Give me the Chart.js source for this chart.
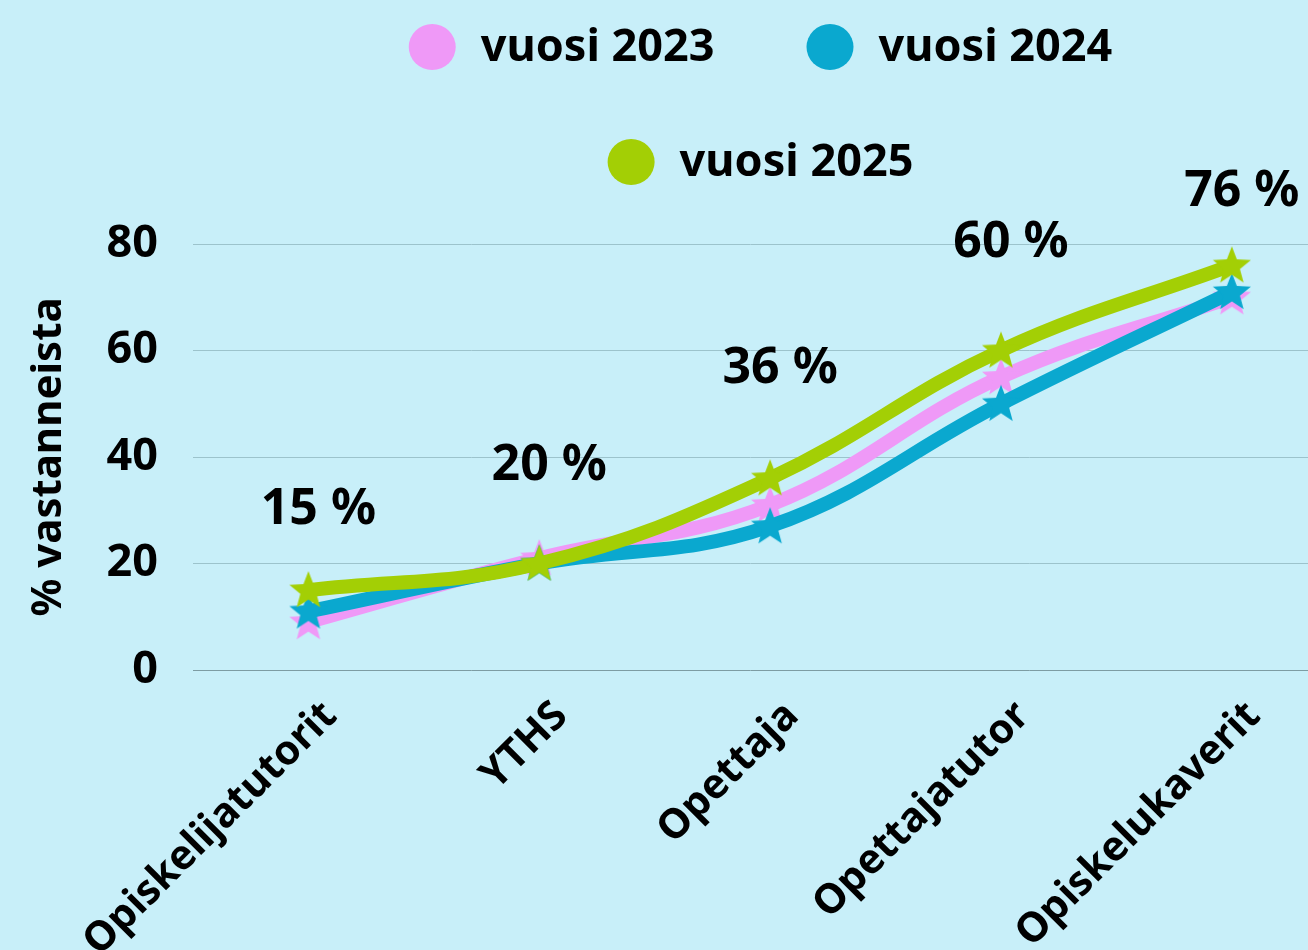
<!DOCTYPE html>
<html>
<head>
<meta charset="utf-8">
<script src="https://cdn.jsdelivr.net/npm/chart.js@4.4.1/dist/chart.umd.min.js"></script>
<style>
  body { margin: 0; background: #c8eff9; }
  #wrap { width: 1308px; height: 950px; position: relative; }
</style>
</head>
<body>
<div id="wrap"><canvas id="grafico"></canvas></div>
<script>
// data
var categorias = ["Opiskelijatutorit", "YTHS", "Opettaja", "Opettajatutor", "Opiskelukaverit"];
var vuosi2023 = [9, 21, 31, 55, 70];
var vuosi2024 = [11, 20, 27, 50, 71];
var vuosi2025 = [15, 20, 36, 60, 76];
var tickY = [0, 20, 40, 60, 80];

var corPink = "#ef99f7";
var corAzul = "#0aa8cf";
var corVerde = "#a3cf05";
var fonte = "'Noto Sans', sans-serif";

function estrela(cor) {
  var c = document.createElement("canvas");
  c.width = 42;
  c.height = 42;
  var g = c.getContext("2d");
  g.fillStyle = cor;
  g.beginPath();
  for (var i = 0; i < 10; i++) {
    var r = i % 2 == 0 ? 20 : 8.5;
    var a = -Math.PI / 2 + i * Math.PI / 5;
    var px = 21 + r * Math.cos(a);
    var py = 22 + r * Math.sin(a);
    if (i == 0) g.moveTo(px, py); else g.lineTo(px, py);
  }
  g.closePath();
  g.fill();
  return c;
}

function serie(valores) {
  return valores.map(function (v, i) { return { x: i, y: v }; });
}

// custom legend, two rows
var legendaPlugin = {
  id: "legenda",
  afterDraw(chart) {
    var ctx = chart.ctx;
    var linhas = [[0, 1], [2]];
    var ys = [47, 162];
    var centro = (chart.chartArea.left + chart.chartArea.right) / 2 + 10;
    ctx.save();
    ctx.font = "bold 45px " + fonte;
    ctx.textBaseline = "middle";
    ctx.textAlign = "left";
    linhas.forEach(function (linha, r) {
      var larguras = linha.map(function (i) {
        return 47 + 25 + ctx.measureText(chart.data.datasets[i].label).width;
      });
      var total = larguras.reduce(function (a, b) { return a + b; }, 0) + 92 * (linha.length - 1);
      var x = centro - total / 2;
      linha.forEach(function (i, k) {
        var ds = chart.data.datasets[i];
        ctx.fillStyle = ds.borderColor;
        ctx.beginPath();
        ctx.ellipse(x + 23.5, ys[r], 23.5, 23, 0, 0, Math.PI * 2);
        ctx.fill();
        ctx.fillStyle = "#000";
        ctx.fillText(ds.label, x + 47 + 25, ys[r] + 1);
        x += larguras[k] + 92;
      });
    });
    ctx.restore();
  }
};

// value labels above the 2025 line
var rotulosPlugin = {
  id: "rotulos",
  afterDatasetsDraw(chart, args, opts) {
    var ctx = chart.ctx;
    var meta = chart.getDatasetMeta(2);
    ctx.save();
    ctx.font = "bold 50px " + fonte;
    ctx.fillStyle = "#000";
    ctx.textAlign = "center";
    ctx.textBaseline = "middle";
    meta.data.forEach(function (p, i) {
      ctx.fillText(vuosi2025[i] + " %", p.x + 10, p.y - opts.offsets[i]);
    });
    ctx.restore();
  }
};

var ctx = document.getElementById("grafico").getContext("2d");

var grafico = new Chart(ctx, {
  type: "line",
  data: {
    datasets: [
      {
        label: "vuosi 2023",
        data: serie(vuosi2023),
        borderColor: corPink,
        backgroundColor: corPink,
        borderWidth: 14,
        tension: 0.4,
        pointStyle: estrela(corPink),
        pointRadius: 20,
        clip: false,
        order: 2,
      },
      {
        label: "vuosi 2024",
        data: serie(vuosi2024),
        borderColor: corAzul,
        backgroundColor: corAzul,
        borderWidth: 14,
        tension: 0.4,
        pointStyle: estrela(corAzul),
        pointRadius: 20,
        clip: false,
        order: 1,
      },
      {
        label: "vuosi 2025",
        data: serie(vuosi2025),
        borderColor: corVerde,
        backgroundColor: corVerde,
        borderWidth: 14,
        tension: 0.4,
        pointStyle: estrela(corVerde),
        pointRadius: 20,
        clip: false,
        order: 0,
      },
    ],
  },
  options: {
    responsive: true,
    maintainAspectRatio: false,
    animation: false,
    layout: { autoPadding: false, padding: { top: 244, left: 0, right: 0, bottom: 0 } },
    plugins: {
      legend: { display: false },
      tooltip: { enabled: false },
      rotulos: { offsets: [80, 98, 110, 108, 74] },
    },
    scales: {
      x: {
        type: "linear",
        min: -0.5,
        max: 4.33,
        afterBuildTicks: function (scale) {
          scale.ticks = categorias.map(function (c, i) { return { value: i }; });
        },
        afterFit: function (scale) {
          scale.height = 280;
          scale.paddingLeft = 0;
          scale.paddingRight = 0;
        },
        grid: { display: false, drawTicks: false },
        border: { display: false },
        ticks: {
          autoSkip: false,
          minRotation: 45,
          maxRotation: 45,
          padding: 22,
          labelOffset: 22,
          color: "#000",
          font: { size: 41, weight: "bold", family: fonte },
          callback: function (v) { return categorias[v]; },
        },
      },
      y: {
        min: 0,
        max: 80,
        afterBuildTicks: function (scale) {
          scale.ticks = tickY.map(function (v) { return { value: v }; });
        },
        afterFit: function (scale) { scale.width = 193; },
        grid: {
          drawTicks: false,
          lineWidth: 1,
          color: function (c) { return c.tick && c.tick.value == 0 ? "#7d9ca3" : "#9cc3cc"; },
        },
        border: { display: false },
        ticks: {
          padding: 35,
          color: "#000",
          font: { size: 45, weight: "bold", family: fonte },
        },
        title: {
          display: true,
          text: "% vastanneista",
          color: "#000",
          padding: { top: 24, bottom: 0 },
          font: { size: 42, weight: "bold", family: fonte },
        },
      },
    },
  },
  plugins: [legendaPlugin, rotulosPlugin],
});
</script>
</body>
</html>
